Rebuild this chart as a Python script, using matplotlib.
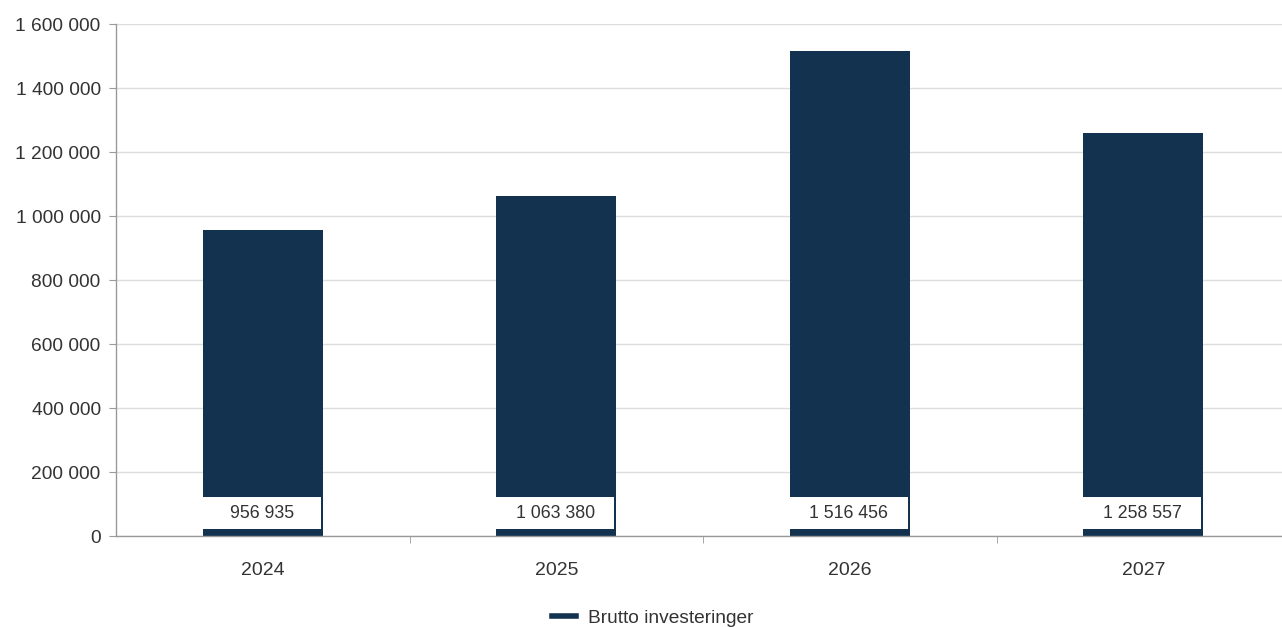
import matplotlib.pyplot as plt
from matplotlib.patches import Rectangle
from matplotlib.lines import Line2D
from matplotlib.ticker import FuncFormatter

plt.rcParams['font.family'] = ['Liberation Sans', 'DejaVu Sans']

years = ['2024', '2025', '2026', '2027']
values = [956935, 1063380, 1516456, 1258557]
series_name = 'Brutto investeringer'

bar_color = '#12324f'
text_color = '#333333'
grid_color = '#dddddd'
axis_color = '#999999'

def fmt(v, pos=None):
    return f'{int(v):,}'.replace(',', ' ')

fig = plt.figure(figsize=(12.82, 6.27), dpi=100)
# plot area runs a little past the right edge of the image, as in the original
ax = fig.add_axes([0.0905, 0.1451, 0.9158, 0.8166])

x = range(len(years))
w = 0.41
ax.bar(x, values, width=w, color=bar_color, zorder=2)

# value labels in white boxes near the bottom of each bar
for i, v in enumerate(values):
    ax.add_patch(Rectangle((i - w / 2, 22000), w * 0.98, 100000,
                           facecolor='white', edgecolor='none', zorder=3))
    ax.text(i - w / 2 + w * 0.49, 71000, fmt(v), ha='center', va='center',
            fontsize=12.8, color=text_color, zorder=4)

ax.set_xlim(-0.5, len(years) - 0.5)
ax.set_ylim(0, 1600000)
ax.set_yticks(range(0, 1600001, 200000))
ax.yaxis.set_major_formatter(FuncFormatter(fmt))
ax.grid(axis='y', color=grid_color, linewidth=1, zorder=0)

ax.set_xticks(list(x))
ax.set_xticklabels(years)
ax.set_xticks([0.5, 1.5, 2.5], minor=True)
ax.tick_params(axis='x', which='major', length=0, pad=19, labelsize=14, labelcolor=text_color)
ax.tick_params(axis='x', which='minor', length=5, color=axis_color)
ax.tick_params(axis='y', length=5, color=axis_color, labelsize=13.8, labelcolor=text_color, pad=6)

for s in ['top', 'right']:
    ax.spines[s].set_visible(False)
for s in ['left', 'bottom']:
    ax.spines[s].set_color(axis_color)
    ax.spines[s].set_linewidth(1)

handle = Line2D([0], [0], color=bar_color, linewidth=4)
fig.legend([handle], [series_name], loc='center', bbox_to_anchor=(0.509, 0.0144),
           frameon=False, fontsize=13.8, handlelength=1.3, handletextpad=0.6,
           borderpad=0, labelcolor=text_color)

fig.savefig('out.png', dpi=100)
